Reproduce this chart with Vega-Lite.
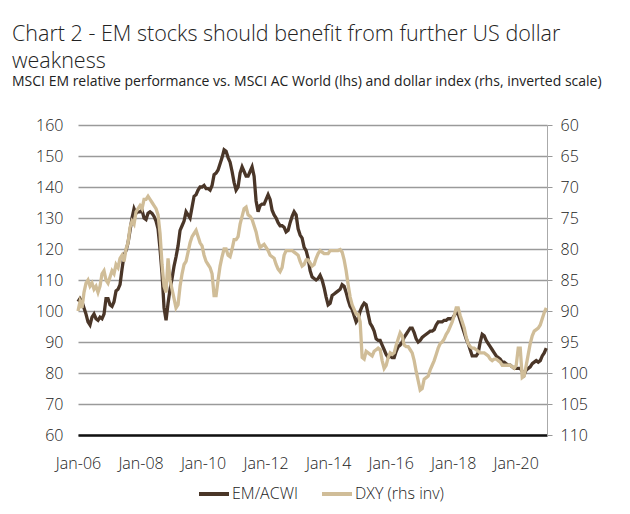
{
  "$schema": "https://vega.github.io/schema/vega-lite/v6.json",
  "width": 469,
  "height": 310,
  "autosize": {"type": "none"},
  "padding": {"left": 78, "top": 125, "right": 83, "bottom": 79},
  "background": "white",
  "config": {
    "view": {"stroke": null},
    "font": "Open Sans",
    "axis": {"labelFont": "Open Sans", "labelFontSize": 16, "labelColor": "#222", "labelFontWeight": 300}
  },
  "title": {
    "text": ["Chart 2 - EM stocks should benefit from further US dollar", "weakness"],
    "subtitle": "MSCI EM relative performance vs. MSCI AC World (lhs) and dollar index (rhs, inverted scale)",
    "anchor": "start",
    "frame": "group",
    "dx": -66,
    "offset": 28,
    "font": "Open Sans",
    "fontSize": 21.5,
    "fontWeight": 300,
    "color": "#222",
    "lineHeight": 27,
    "subtitleFont": "Open Sans",
    "subtitleFontSize": 14,
    "subtitleFontWeight": 400,
    "subtitleColor": "#222",
    "subtitlePadding": 3
  },
  "data": {
    "values": [
      {"t": 2006.000, "em": 103, "dxy": 90},
      {"t": 2006.064, "em": 104, "dxy": 88.5},
      {"t": 2006.128, "em": 103, "dxy": 89.5},
      {"t": 2006.192, "em": 101, "dxy": 87},
      {"t": 2006.256, "em": 99, "dxy": 85.5},
      {"t": 2006.320, "em": 96.5, "dxy": 85},
      {"t": 2006.384, "em": 95.5, "dxy": 86},
      {"t": 2006.448, "em": 98, "dxy": 85.5},
      {"t": 2006.512, "em": 99, "dxy": 86.5},
      {"t": 2006.576, "em": 97.5, "dxy": 86},
      {"t": 2006.640, "em": 97, "dxy": 87},
      {"t": 2006.704, "em": 98, "dxy": 86},
      {"t": 2006.768, "em": 97.5, "dxy": 84},
      {"t": 2006.832, "em": 99, "dxy": 83.5},
      {"t": 2006.896, "em": 104, "dxy": 85},
      {"t": 2006.960, "em": 104, "dxy": 85.5},
      {"t": 2007.024, "em": 102, "dxy": 84.5},
      {"t": 2007.088, "em": 101.5, "dxy": 83.5},
      {"t": 2007.152, "em": 103, "dxy": 84},
      {"t": 2007.216, "em": 106.5, "dxy": 82.5},
      {"t": 2007.280, "em": 107, "dxy": 83},
      {"t": 2007.344, "em": 108.5, "dxy": 81.5},
      {"t": 2007.408, "em": 113.5, "dxy": 81},
      {"t": 2007.472, "em": 118, "dxy": 82},
      {"t": 2007.536, "em": 119.5, "dxy": 80},
      {"t": 2007.600, "em": 122, "dxy": 79},
      {"t": 2007.664, "em": 126, "dxy": 76.5},
      {"t": 2007.728, "em": 130, "dxy": 75.5},
      {"t": 2007.792, "em": 133, "dxy": 76},
      {"t": 2007.856, "em": 131.5, "dxy": 74},
      {"t": 2007.920, "em": 132, "dxy": 73.5},
      {"t": 2007.984, "em": 132, "dxy": 73},
      {"t": 2008.048, "em": 132.5, "dxy": 73.5},
      {"t": 2008.112, "em": 130, "dxy": 72},
      {"t": 2008.176, "em": 129.5, "dxy": 72},
      {"t": 2008.240, "em": 131.5, "dxy": 71.5},
      {"t": 2008.304, "em": 132, "dxy": 72},
      {"t": 2008.368, "em": 131.5, "dxy": 72.5},
      {"t": 2008.432, "em": 130.5, "dxy": 73},
      {"t": 2008.496, "em": 129, "dxy": 73.5},
      {"t": 2008.560, "em": 126.5, "dxy": 74.5},
      {"t": 2008.624, "em": 120, "dxy": 77.5},
      {"t": 2008.688, "em": 112, "dxy": 82.5},
      {"t": 2008.752, "em": 101, "dxy": 86},
      {"t": 2008.816, "em": 97, "dxy": 87},
      {"t": 2008.880, "em": 102.5, "dxy": 81.5},
      {"t": 2008.944, "em": 107, "dxy": 85},
      {"t": 2009.008, "em": 110.5, "dxy": 86.5},
      {"t": 2009.072, "em": 114.5, "dxy": 88},
      {"t": 2009.136, "em": 117.5, "dxy": 89.5},
      {"t": 2009.200, "em": 121, "dxy": 89},
      {"t": 2009.264, "em": 126, "dxy": 86},
      {"t": 2009.328, "em": 127.5, "dxy": 84},
      {"t": 2009.392, "em": 129, "dxy": 82.5},
      {"t": 2009.456, "em": 132, "dxy": 82},
      {"t": 2009.520, "em": 131, "dxy": 80.5},
      {"t": 2009.584, "em": 130, "dxy": 79},
      {"t": 2009.648, "em": 133.5, "dxy": 78},
      {"t": 2009.712, "em": 137, "dxy": 77.5},
      {"t": 2009.776, "em": 137.5, "dxy": 77},
      {"t": 2009.840, "em": 139, "dxy": 78},
      {"t": 2009.904, "em": 140, "dxy": 79},
      {"t": 2009.968, "em": 140, "dxy": 79.5},
      {"t": 2010.032, "em": 140.5, "dxy": 81},
      {"t": 2010.096, "em": 139.5, "dxy": 82},
      {"t": 2010.160, "em": 139.5, "dxy": 82.5},
      {"t": 2010.224, "em": 139, "dxy": 83},
      {"t": 2010.288, "em": 140.5, "dxy": 84},
      {"t": 2010.352, "em": 144, "dxy": 87.5},
      {"t": 2010.416, "em": 144.5, "dxy": 87.5},
      {"t": 2010.480, "em": 145.5, "dxy": 85},
      {"t": 2010.544, "em": 147.5, "dxy": 82.75},
      {"t": 2010.608, "em": 149.5, "dxy": 81.25},
      {"t": 2010.672, "em": 152, "dxy": 80},
      {"t": 2010.736, "em": 151.5, "dxy": 80},
      {"t": 2010.800, "em": 149.5, "dxy": 81},
      {"t": 2010.864, "em": 148, "dxy": 81.25},
      {"t": 2010.928, "em": 145, "dxy": 80},
      {"t": 2010.992, "em": 141.5, "dxy": 78.5},
      {"t": 2011.056, "em": 139, "dxy": 78.5},
      {"t": 2011.120, "em": 140, "dxy": 78},
      {"t": 2011.184, "em": 144.5, "dxy": 76},
      {"t": 2011.248, "em": 146.5, "dxy": 74.75},
      {"t": 2011.312, "em": 145, "dxy": 73.5},
      {"t": 2011.376, "em": 143.5, "dxy": 73.25},
      {"t": 2011.440, "em": 143.5, "dxy": 74.5},
      {"t": 2011.504, "em": 145, "dxy": 74.75},
      {"t": 2011.568, "em": 146.5, "dxy": 75.25},
      {"t": 2011.632, "em": 143.5, "dxy": 76.25},
      {"t": 2011.696, "em": 135.5, "dxy": 77.25},
      {"t": 2011.760, "em": 132, "dxy": 78.75},
      {"t": 2011.824, "em": 134, "dxy": 79.75},
      {"t": 2011.888, "em": 134.5, "dxy": 79.5},
      {"t": 2011.952, "em": 134.5, "dxy": 79.25},
      {"t": 2012.016, "em": 136, "dxy": 79.75},
      {"t": 2012.080, "em": 137.5, "dxy": 80.25},
      {"t": 2012.144, "em": 136, "dxy": 81},
      {"t": 2012.208, "em": 132.5, "dxy": 81.25},
      {"t": 2012.272, "em": 131, "dxy": 81.5},
      {"t": 2012.336, "em": 130, "dxy": 82.5},
      {"t": 2012.400, "em": 128.5, "dxy": 83.25},
      {"t": 2012.464, "em": 127.5, "dxy": 83.65},
      {"t": 2012.528, "em": 127.5, "dxy": 83},
      {"t": 2012.592, "em": 127, "dxy": 81},
      {"t": 2012.656, "em": 125.5, "dxy": 80.25},
      {"t": 2012.720, "em": 126, "dxy": 80.25},
      {"t": 2012.784, "em": 128.5, "dxy": 80.25},
      {"t": 2012.848, "em": 130.5, "dxy": 80.25},
      {"t": 2012.912, "em": 132, "dxy": 80.5},
      {"t": 2012.976, "em": 131, "dxy": 80.75},
      {"t": 2013.040, "em": 126.5, "dxy": 81},
      {"t": 2013.104, "em": 124.5, "dxy": 82},
      {"t": 2013.168, "em": 123.5, "dxy": 82.75},
      {"t": 2013.232, "em": 120.5, "dxy": 82.5},
      {"t": 2013.296, "em": 119.5, "dxy": 81.75},
      {"t": 2013.360, "em": 117, "dxy": 81.75},
      {"t": 2013.424, "em": 113, "dxy": 82.25},
      {"t": 2013.488, "em": 111, "dxy": 82.75},
      {"t": 2013.552, "em": 110.5, "dxy": 82.5},
      {"t": 2013.616, "em": 110, "dxy": 81.5},
      {"t": 2013.680, "em": 110.5, "dxy": 80.75},
      {"t": 2013.744, "em": 111.5, "dxy": 80.25},
      {"t": 2013.808, "em": 110, "dxy": 80.5},
      {"t": 2013.872, "em": 107.5, "dxy": 80.75},
      {"t": 2013.936, "em": 104.5, "dxy": 80.75},
      {"t": 2014.000, "em": 102, "dxy": 80.75},
      {"t": 2014.064, "em": 102.5, "dxy": 80.25},
      {"t": 2014.128, "em": 105, "dxy": 80.25},
      {"t": 2014.192, "em": 105.5, "dxy": 80.25},
      {"t": 2014.256, "em": 106, "dxy": 80.25},
      {"t": 2014.320, "em": 106.5, "dxy": 80.25},
      {"t": 2014.384, "em": 107, "dxy": 80.1},
      {"t": 2014.448, "em": 108.5, "dxy": 80.5},
      {"t": 2014.512, "em": 108, "dxy": 81.75},
      {"t": 2014.576, "em": 106, "dxy": 83.5},
      {"t": 2014.640, "em": 103.5, "dxy": 85.75},
      {"t": 2014.704, "em": 101.5, "dxy": 87.75},
      {"t": 2014.768, "em": 100.5, "dxy": 89},
      {"t": 2014.832, "em": 98.5, "dxy": 89.75},
      {"t": 2014.896, "em": 96.5, "dxy": 90.5},
      {"t": 2014.960, "em": 97.5, "dxy": 90.5},
      {"t": 2015.024, "em": 100, "dxy": 91.75},
      {"t": 2015.088, "em": 101.5, "dxy": 97.5},
      {"t": 2015.152, "em": 102.5, "dxy": 97.75},
      {"t": 2015.216, "em": 102, "dxy": 96.5},
      {"t": 2015.280, "em": 99, "dxy": 96.75},
      {"t": 2015.344, "em": 96, "dxy": 97},
      {"t": 2015.408, "em": 95, "dxy": 97.25},
      {"t": 2015.472, "em": 93.5, "dxy": 96.5},
      {"t": 2015.536, "em": 91, "dxy": 96.25},
      {"t": 2015.600, "em": 90.5, "dxy": 96},
      {"t": 2015.664, "em": 90.5, "dxy": 96.25},
      {"t": 2015.728, "em": 89, "dxy": 98},
      {"t": 2015.792, "em": 87.5, "dxy": 99.25},
      {"t": 2015.856, "em": 86, "dxy": 98.75},
      {"t": 2015.920, "em": 85, "dxy": 97.5},
      {"t": 2015.984, "em": 85.5, "dxy": 96.75},
      {"t": 2016.048, "em": 85, "dxy": 97},
      {"t": 2016.112, "em": 85, "dxy": 96.75},
      {"t": 2016.176, "em": 87, "dxy": 95.5},
      {"t": 2016.240, "em": 88.5, "dxy": 94.5},
      {"t": 2016.304, "em": 89, "dxy": 93.5},
      {"t": 2016.368, "em": 90, "dxy": 94},
      {"t": 2016.432, "em": 91.5, "dxy": 95.5},
      {"t": 2016.496, "em": 92.5, "dxy": 95.75},
      {"t": 2016.560, "em": 93.5, "dxy": 95.75},
      {"t": 2016.624, "em": 94.5, "dxy": 96.25},
      {"t": 2016.688, "em": 94.5, "dxy": 96.75},
      {"t": 2016.752, "em": 93, "dxy": 98},
      {"t": 2016.816, "em": 91, "dxy": 99.75},
      {"t": 2016.880, "em": 90, "dxy": 101.25},
      {"t": 2016.944, "em": 90.5, "dxy": 102.75},
      {"t": 2017.008, "em": 91.5, "dxy": 102.5},
      {"t": 2017.072, "em": 92, "dxy": 101},
      {"t": 2017.136, "em": 92.5, "dxy": 100.75},
      {"t": 2017.200, "em": 93, "dxy": 100.5},
      {"t": 2017.264, "em": 93.5, "dxy": 99.5},
      {"t": 2017.328, "em": 93.5, "dxy": 98.75},
      {"t": 2017.392, "em": 94, "dxy": 98},
      {"t": 2017.456, "em": 95.5, "dxy": 97},
      {"t": 2017.520, "em": 96.5, "dxy": 96},
      {"t": 2017.584, "em": 96.5, "dxy": 95.25},
      {"t": 2017.648, "em": 96.5, "dxy": 95},
      {"t": 2017.712, "em": 97, "dxy": 94.5},
      {"t": 2017.776, "em": 97, "dxy": 93.75},
      {"t": 2017.840, "em": 97.5, "dxy": 93.25},
      {"t": 2017.904, "em": 97.5, "dxy": 92.5},
      {"t": 2017.968, "em": 97.5, "dxy": 91.75},
      {"t": 2018.032, "em": 98.5, "dxy": 90.75},
      {"t": 2018.096, "em": 99.5, "dxy": 89.5},
      {"t": 2018.160, "em": 99, "dxy": 89.5},
      {"t": 2018.224, "em": 97, "dxy": 90.75},
      {"t": 2018.288, "em": 95, "dxy": 91.75},
      {"t": 2018.352, "em": 93, "dxy": 92.75},
      {"t": 2018.416, "em": 91, "dxy": 94.25},
      {"t": 2018.480, "em": 89.5, "dxy": 95.25},
      {"t": 2018.544, "em": 87.5, "dxy": 95.75},
      {"t": 2018.608, "em": 85.5, "dxy": 96},
      {"t": 2018.672, "em": 85.5, "dxy": 96},
      {"t": 2018.736, "em": 85.5, "dxy": 96.25},
      {"t": 2018.800, "em": 86.5, "dxy": 96.5},
      {"t": 2018.864, "em": 90, "dxy": 96.75},
      {"t": 2018.928, "em": 92.5, "dxy": 96.75},
      {"t": 2018.992, "em": 92, "dxy": 96.75},
      {"t": 2019.056, "em": 90.5, "dxy": 97},
      {"t": 2019.120, "em": 89.5, "dxy": 97.25},
      {"t": 2019.184, "em": 88.5, "dxy": 97.75},
      {"t": 2019.248, "em": 87.5, "dxy": 98},
      {"t": 2019.312, "em": 86.5, "dxy": 97.75},
      {"t": 2019.376, "em": 85.5, "dxy": 97.75},
      {"t": 2019.440, "em": 85, "dxy": 98},
      {"t": 2019.504, "em": 84.5, "dxy": 98.25},
      {"t": 2019.568, "em": 83.5, "dxy": 98.75},
      {"t": 2019.632, "em": 83.5, "dxy": 98.75},
      {"t": 2019.696, "em": 83, "dxy": 98.75},
      {"t": 2019.760, "em": 82.5, "dxy": 98.75},
      {"t": 2019.824, "em": 82.5, "dxy": 98.75},
      {"t": 2019.888, "em": 82, "dxy": 99},
      {"t": 2019.952, "em": 81.5, "dxy": 99.25},
      {"t": 2020.016, "em": 81.5, "dxy": 98.75},
      {"t": 2020.080, "em": 81.5, "dxy": 96},
      {"t": 2020.144, "em": 81.5, "dxy": 96},
      {"t": 2020.208, "em": 80.5, "dxy": 100.75},
      {"t": 2020.272, "em": 79.5, "dxy": 100.5},
      {"t": 2020.336, "em": 81, "dxy": 98.75},
      {"t": 2020.400, "em": 81.5, "dxy": 97},
      {"t": 2020.464, "em": 82, "dxy": 95.25},
      {"t": 2020.528, "em": 83, "dxy": 94},
      {"t": 2020.592, "em": 83.5, "dxy": 93.25},
      {"t": 2020.656, "em": 84, "dxy": 93},
      {"t": 2020.720, "em": 83.5, "dxy": 92.75},
      {"t": 2020.784, "em": 84, "dxy": 92.25},
      {"t": 2020.848, "em": 85.5, "dxy": 91.25},
      {"t": 2020.912, "em": 86.5, "dxy": 90.25},
      {"t": 2020.976, "em": 88, "dxy": 89.5}
    ]
  },
  "encoding": {
    "x": {
      "field": "t",
      "type": "quantitative",
      "scale": {"domain": [2006, 2021], "nice": false, "zero": false},
      "axis": {
        "title": null,
        "values": [2006, 2008, 2010, 2012, 2014, 2016, 2018, 2020],
        "labelExpr": "'Jan-' + substring(toString(datum.value), 2, 4)",
        "ticks": false,
        "grid": false,
        "domain": true,
        "domainColor": "#111",
        "domainWidth": 2.5,
        "labelPadding": 20,
        "labelFlush": false
      }
    }
  },
  "layer": [
    {
      "mark": {"type": "line", "strokeWidth": 3.3, "interpolate": "linear"},
      "encoding": {
        "y": {
          "field": "em",
          "type": "quantitative",
          "scale": {"domain": [60, 160], "nice": false, "zero": false},
          "axis": {
            "title": null,
            "orient": "left",
            "values": [60, 70, 80, 90, 100, 110, 120, 130, 140, 150, 160],
            "ticks": false,
            "domain": false,
            "grid": true,
            "gridColor": "#9a9a9a",
            "gridWidth": 1.5,
            "labelPadding": 15
          }
        },
        "color": {
          "datum": "EM/ACWI",
          "type": "nominal",
          "scale": {"domain": ["EM/ACWI", "DXY (rhs inv)"], "range": ["#4a3628", "#d0bd98"]},
          "legend": {
            "title": null,
            "orient": "none",
            "direction": "horizontal",
            "legendX": 119,
            "legendY": 352,
            "symbolType": "stroke",
            "symbolSize": 900,
            "symbolStrokeWidth": 4,
            "labelFont": "Open Sans",
            "labelFontSize": 16,
            "labelFontWeight": 300,
            "labelColor": "#222",
            "labelOffset": 1,
            "columnPadding": 16
          }
        }
      }
    },
    {
      "mark": {"type": "line", "strokeWidth": 3.3, "interpolate": "linear"},
      "encoding": {
        "y": {
          "field": "dxy",
          "type": "quantitative",
          "scale": {"domain": [60, 110], "reverse": true, "nice": false, "zero": false},
          "axis": {
            "title": null,
            "orient": "right",
            "values": [60, 65, 70, 75, 80, 85, 90, 95, 100, 105, 110],
            "ticks": true,
            "tickSize": 5,
            "tickColor": "#999",
            "domain": true,
            "domainColor": "#aaa",
            "domainWidth": 1,
            "grid": false,
            "labelPadding": 8
          }
        },
        "color": {"datum": "DXY (rhs inv)", "type": "nominal"}
      }
    }
  ],
  "resolve": {"scale": {"y": "independent"}, "axis": {"y": "independent"}}
}
